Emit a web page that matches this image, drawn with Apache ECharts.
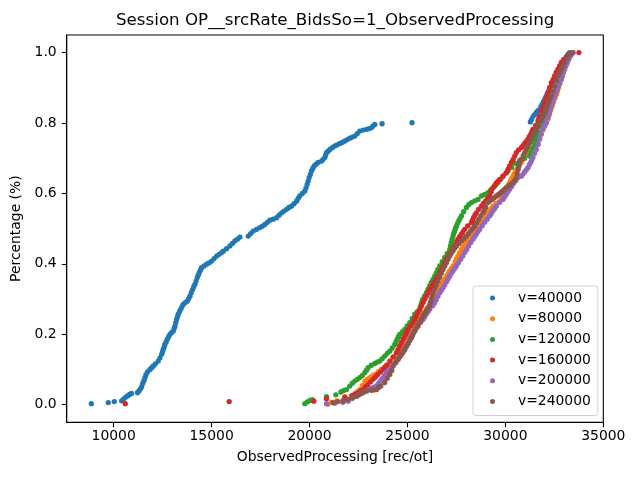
<!DOCTYPE html>
<html>
<head>
<meta charset="utf-8">
<script src="https://cdn.jsdelivr.net/npm/echarts@6/dist/echarts.min.js"></script>
<style>
  html, body { margin: 0; padding: 0; background: #fff; }
  #main { width: 640px; height: 480px; }
</style>
</head>
<body>
<div id="main"></div>
<script>
var titleText = 'Session OP__srcRate_BidsSo=1_ObservedProcessing';
var xName = 'ObservedProcessing [rec/ot]';
var yName = 'Percentage (%)';
var xTicks = [10000, 15000, 20000, 25000, 30000, 35000];
var yTicks = [0, 0.2, 0.4, 0.6, 0.8, 1.0];
var seriesNames = ['v=40000', 'v=80000', 'v=120000', 'v=160000', 'v=200000', 'v=240000'];
var colors = ['#1f77b4', '#ff7f0e', '#2ca02c', '#d62728', '#9467bd', '#8c564b'];

// [ObservedProcessing, percentage]
var v40000 = [[8857,0.003],[9724,0.006],[10031,0.009],[10408,0.011],[10500,0.016],[10602,0.021],[10704,0.025],[10806,0.029],[10908,0.032],[11214,0.034],[11291,0.039],[11367,0.045],[11429,0.051],[11485,0.061],[11546,0.069],[11597,0.077],[11648,0.085],[11724,0.093],[11852,0.100],[11939,0.105],[12020,0.110],[12133,0.116],[12275,0.124],[12362,0.133],[12449,0.143],[12490,0.150],[12531,0.157],[12577,0.164],[12617,0.171],[12678,0.178],[12735,0.186],[12806,0.193],[12873,0.200],[12959,0.205],[13041,0.209],[13087,0.217],[13128,0.223],[13169,0.233],[13214,0.242],[13255,0.249],[13296,0.257],[13357,0.264],[13418,0.271],[13485,0.278],[13551,0.285],[13653,0.290],[13755,0.294],[13826,0.301],[13893,0.308],[13959,0.318],[14030,0.327],[14087,0.335],[14148,0.342],[14209,0.351],[14265,0.361],[14316,0.368],[14367,0.375],[14428,0.382],[14490,0.389],[14617,0.394],[14745,0.399],[14872,0.403],[14999,0.408],[15127,0.415],[15255,0.422],[15382,0.427],[15510,0.432],[15592,0.436],[15766,0.443],[15934,0.451],[16062,0.458],[16189,0.465],[16317,0.470],[16444,0.476],[16867,0.479],[16995,0.486],[17122,0.493],[17295,0.498],[17464,0.503],[17591,0.507],[17719,0.512],[17847,0.518],[17974,0.524],[18143,0.527],[18316,0.531],[18444,0.538],[18571,0.545],[18699,0.550],[18827,0.555],[18954,0.560],[19082,0.564],[19209,0.571],[19337,0.578],[19420,0.586],[19505,0.593],[19632,0.600],[19760,0.607],[19821,0.616],[19878,0.626],[19929,0.635],[19980,0.645],[20041,0.654],[20101,0.664],[20168,0.671],[20235,0.678],[20337,0.683],[20439,0.688],[20612,0.692],[20694,0.697],[20781,0.702],[20822,0.709],[20867,0.716],[20949,0.720],[21035,0.725],[21163,0.730],[21290,0.735],[21418,0.738],[21546,0.742],[21673,0.745],[21801,0.749],[21929,0.753],[22056,0.757],[22184,0.760],[22311,0.763],[22439,0.770],[22566,0.777],[22735,0.780],[22908,0.782],[23036,0.784],[23163,0.787],[23245,0.792],[23331,0.796],[23704,0.798],[25234,0.801],[31275,0.803],[31341,0.810],[31418,0.819],[31495,0.824],[31581,0.830],[31663,0.835],[31750,0.839],[31811,0.846],[31877,0.853],[31939,0.860],[32005,0.867],[32066,0.874],[32132,0.882],[32194,0.889],[32260,0.896],[32347,0.906],[32439,0.916],[32541,0.924],[32633,0.934],[32699,0.943],[32770,0.953],[32832,0.960],[32897,0.967],[32959,0.974],[33025,0.981],[33107,0.988],[33193,0.995],[33280,1.0]];

var v80000 = [[20934,0.001],[21122,0.007],[21393,0.011],[21714,0.013],[21929,0.016],[22143,0.020],[22254,0.026],[22362,0.032],[22465,0.038],[22566,0.043],[22694,0.055],[22821,0.067],[22949,0.072],[23076,0.077],[23204,0.082],[23332,0.086],[23509,0.093],[23673,0.100],[23842,0.107],[24010,0.114],[24148,0.124],[24265,0.134],[24429,0.143],[24607,0.152],[24735,0.164],[24862,0.176],[24990,0.190],[25041,0.197],[25117,0.205],[25204,0.212],[25296,0.220],[25377,0.226],[25459,0.233],[25541,0.241],[25627,0.248],[25714,0.255],[25796,0.261],[25959,0.271],[26046,0.278],[26138,0.285],[26219,0.292],[26306,0.299],[26387,0.308],[26469,0.318],[26557,0.328],[26648,0.337],[26734,0.343],[26827,0.350],[26913,0.358],[27005,0.366],[27082,0.373],[27158,0.380],[27240,0.387],[27326,0.394],[27438,0.406],[27500,0.414],[27566,0.421],[27658,0.431],[27755,0.441],[27837,0.448],[27923,0.455],[28025,0.463],[28127,0.470],[28230,0.477],[28331,0.484],[28423,0.491],[28520,0.498],[28602,0.504],[28689,0.509],[28776,0.515],[28867,0.521],[28948,0.528],[29030,0.536],[29112,0.543],[29199,0.551],[29281,0.557],[29367,0.564],[29530,0.572],[29709,0.578],[29785,0.586],[29862,0.593],[29923,0.600],[29990,0.607],[30061,0.614],[30132,0.621],[30199,0.629],[30270,0.636],[30327,0.643],[30387,0.649],[30454,0.656],[30525,0.663],[30602,0.670],[30678,0.677],[30755,0.684],[30831,0.690],[30908,0.698],[30985,0.705],[31061,0.712],[31138,0.718],[31291,0.725],[31469,0.734],[31566,0.739],[31663,0.744],[31745,0.757],[31827,0.769],[31913,0.780],[32005,0.791],[32086,0.801],[32173,0.811],[32240,0.823],[32311,0.836],[32388,0.848],[32464,0.860],[32541,0.871],[32617,0.882],[32668,0.891],[32719,0.901],[32786,0.913],[32857,0.924],[32902,0.934],[32948,0.944],[32999,0.954],[33050,0.964],[33102,0.972],[33153,0.981],[33280,0.995]];

var v120000 = [[19760,0.003],[19888,0.008],[20015,0.012],[20143,0.014],[20867,0.023],[21342,0.028],[21597,0.036],[21740,0.040],[21888,0.043],[22056,0.053],[22184,0.061],[22311,0.067],[22439,0.072],[22566,0.077],[22694,0.083],[22821,0.091],[22908,0.098],[22990,0.105],[23153,0.112],[23332,0.117],[23459,0.121],[23587,0.124],[23714,0.131],[23842,0.138],[23969,0.146],[24097,0.152],[24224,0.161],[24352,0.171],[24414,0.178],[24479,0.186],[24540,0.193],[24607,0.200],[24735,0.207],[24862,0.214],[24990,0.224],[25117,0.233],[25245,0.245],[25372,0.257],[25500,0.264],[25627,0.271],[25663,0.278],[25704,0.285],[25740,0.292],[25780,0.299],[25872,0.309],[25969,0.318],[26051,0.328],[26138,0.338],[26219,0.347],[26306,0.356],[26393,0.365],[26469,0.374],[26557,0.384],[26648,0.394],[26775,0.406],[26903,0.418],[27031,0.430],[27158,0.441],[27194,0.451],[27235,0.461],[27281,0.470],[27326,0.479],[27367,0.487],[27413,0.494],[27454,0.501],[27500,0.507],[27556,0.515],[27617,0.522],[27684,0.529],[27755,0.536],[27872,0.548],[28010,0.560],[28127,0.568],[28265,0.574],[28434,0.579],[28602,0.583],[28776,0.593],[28944,0.597],[29112,0.602],[29250,0.610],[29367,0.616],[29505,0.624],[29622,0.631],[29760,0.640],[29877,0.649],[30015,0.657],[30132,0.664],[30321,0.674],[30525,0.685],[30729,0.694],[30985,0.700],[31240,0.706],[31315,0.716],[31393,0.728],[31469,0.739],[31546,0.751],[31622,0.762],[31699,0.774],[31852,0.788],[32005,0.801],[32081,0.816],[32158,0.830],[32235,0.843],[32311,0.856],[32388,0.867],[32464,0.879],[32541,0.887],[32617,0.896],[32744,0.910],[32856,0.924],[32902,0.934],[32948,0.944],[32999,0.954],[33050,0.964],[33127,0.972],[33193,0.981],[33280,0.992],[33367,1.0]];

var v160000 = [[10592,0.003],[15898,0.009],[20219,0.010],[20867,0.017],[21801,0.022],[22158,0.026],[22311,0.030],[22479,0.034],[22607,0.039],[22735,0.043],[22857,0.051],[22974,0.057],[23112,0.065],[23244,0.072],[23367,0.079],[23485,0.086],[23622,0.093],[23755,0.100],[23852,0.106],[23943,0.112],[24097,0.124],[24275,0.136],[24438,0.148],[24520,0.157],[24607,0.167],[24694,0.176],[24775,0.186],[24842,0.193],[24913,0.200],[24969,0.207],[25030,0.214],[25168,0.224],[25285,0.233],[25372,0.242],[25449,0.251],[25536,0.261],[25627,0.271],[25714,0.281],[25806,0.291],[25888,0.300],[25969,0.309],[26051,0.318],[26138,0.328],[26240,0.337],[26342,0.346],[26449,0.356],[26561,0.365],[26668,0.377],[26775,0.389],[26883,0.401],[26990,0.413],[27071,0.420],[27158,0.427],[27245,0.434],[27326,0.441],[27392,0.448],[27464,0.455],[27520,0.463],[27582,0.470],[27663,0.477],[27745,0.484],[27832,0.491],[27923,0.498],[28076,0.508],[28265,0.517],[28321,0.524],[28382,0.532],[28449,0.539],[28520,0.545],[28638,0.555],[28776,0.564],[28882,0.572],[28995,0.579],[29097,0.586],[29199,0.593],[29276,0.605],[29367,0.616],[29449,0.622],[29530,0.629],[29617,0.634],[29709,0.640],[29877,0.649],[30051,0.659],[30132,0.668],[30219,0.678],[30306,0.688],[30398,0.697],[30479,0.706],[30561,0.716],[30678,0.724],[30816,0.730],[30898,0.736],[30985,0.742],[31071,0.748],[31153,0.754],[31219,0.761],[31291,0.768],[31352,0.775],[31409,0.782],[31546,0.793],[31663,0.806],[31709,0.813],[31750,0.820],[31837,0.834],[31929,0.846],[32005,0.858],[32081,0.873],[32173,0.886],[32260,0.901],[32347,0.915],[32439,0.924],[32515,0.934],[32592,0.944],[32684,0.953],[32770,0.962],[32857,0.972],[32974,0.980],[33112,0.986],[33229,0.994],[33367,0.998],[33755,1.0]];

var v200000 = [[20867,0.003],[21291,0.004],[21698,0.007],[21969,0.010],[22184,0.018],[22398,0.024],[22515,0.028],[22643,0.032],[22770,0.036],[22908,0.039],[23025,0.043],[23153,0.046],[23280,0.050],[23418,0.053],[23500,0.059],[23587,0.065],[23673,0.071],[23755,0.077],[23837,0.083],[23919,0.089],[24005,0.095],[24097,0.100],[24184,0.106],[24275,0.112],[24357,0.118],[24438,0.124],[24520,0.130],[24607,0.136],[24694,0.142],[24775,0.148],[24842,0.155],[24913,0.163],[24969,0.170],[25030,0.176],[25097,0.184],[25168,0.191],[25225,0.198],[25285,0.205],[25413,0.214],[25540,0.223],[25678,0.234],[25796,0.242],[25877,0.249],[25959,0.257],[26046,0.264],[26138,0.271],[26291,0.281],[26377,0.289],[26469,0.298],[26557,0.308],[26648,0.318],[26729,0.325],[26816,0.332],[26903,0.340],[26990,0.349],[27071,0.357],[27158,0.365],[27240,0.373],[27326,0.380],[27413,0.387],[27500,0.394],[27607,0.403],[27719,0.413],[27821,0.422],[27923,0.432],[28025,0.441],[28127,0.451],[28235,0.461],[28347,0.470],[28429,0.477],[28510,0.484],[28597,0.491],[28689,0.498],[28816,0.508],[28944,0.518],[29071,0.527],[29199,0.536],[29281,0.543],[29367,0.551],[29454,0.557],[29540,0.564],[29709,0.575],[29877,0.583],[29959,0.590],[30040,0.597],[30127,0.605],[30219,0.612],[30321,0.620],[30423,0.629],[30530,0.637],[30643,0.645],[30816,0.649],[30898,0.655],[30985,0.661],[31066,0.667],[31153,0.673],[31219,0.681],[31291,0.688],[31347,0.695],[31409,0.702],[31495,0.714],[31581,0.725],[31673,0.739],[31750,0.754],[31826,0.768],[31918,0.782],[32005,0.792],[32091,0.801],[32183,0.816],[32260,0.830],[32321,0.841],[32388,0.853],[32449,0.865],[32515,0.877],[32577,0.886],[32643,0.896],[32704,0.905],[32770,0.915],[32831,0.924],[32898,0.934],[32959,0.943],[33025,0.953],[33087,0.961],[33153,0.970],[33214,0.978],[33280,0.986],[33362,0.993],[33449,1.0]];

var v240000 = [[21204,0.006],[21444,0.009],[21714,0.010],[21969,0.015],[22184,0.019],[22398,0.024],[22520,0.028],[22643,0.032],[22775,0.036],[22908,0.039],[23153,0.041],[23285,0.042],[23418,0.043],[23525,0.049],[23638,0.053],[23842,0.063],[23969,0.075],[24097,0.086],[24199,0.097],[24265,0.110],[24403,0.120],[24520,0.129],[24602,0.136],[24683,0.143],[24770,0.150],[24862,0.157],[24949,0.166],[25041,0.174],[25122,0.182],[25204,0.190],[25260,0.197],[25321,0.204],[25387,0.211],[25459,0.219],[25541,0.227],[25627,0.235],[25714,0.243],[25796,0.252],[25877,0.259],[25959,0.266],[26046,0.273],[26138,0.280],[26173,0.290],[26214,0.299],[26260,0.309],[26306,0.318],[26387,0.329],[26469,0.340],[26557,0.351],[26648,0.362],[26729,0.373],[26816,0.384],[26903,0.394],[26990,0.403],[27071,0.413],[27158,0.422],[27240,0.430],[27326,0.437],[27413,0.444],[27500,0.451],[27628,0.458],[27755,0.465],[27883,0.472],[28010,0.479],[28117,0.486],[28229,0.494],[28332,0.501],[28434,0.507],[28536,0.517],[28638,0.526],[28744,0.536],[28857,0.545],[28923,0.553],[28995,0.561],[29112,0.574],[29219,0.579],[29325,0.583],[29433,0.588],[29540,0.593],[29648,0.597],[29760,0.602],[29862,0.607],[29964,0.612],[30066,0.617],[30168,0.622],[30275,0.626],[30387,0.631],[30469,0.637],[30551,0.643],[30602,0.656],[30653,0.668],[30689,0.678],[30729,0.688],[30816,0.697],[30908,0.707],[30990,0.716],[31071,0.725],[31127,0.732],[31188,0.739],[31255,0.747],[31326,0.754],[31382,0.761],[31444,0.768],[31510,0.775],[31581,0.782],[31637,0.789],[31698,0.796],[31765,0.803],[31836,0.811],[31892,0.818],[31954,0.825],[32020,0.832],[32091,0.839],[32148,0.849],[32209,0.859],[32275,0.868],[32347,0.877],[32439,0.891],[32515,0.905],[32602,0.920],[32684,0.934],[32770,0.943],[32857,0.953],[32949,0.962],[33025,0.972],[33153,0.984],[33280,0.995],[33449,1.0]];

var seriesData = [v40000, v80000, v120000, v160000, v200000, v240000];

var font = 'DejaVu Sans';
var chart = echarts.init(document.getElementById('main'), null, { renderer: 'canvas' });

var series = [];
for (var i = 0; i < seriesNames.length; i++) {
  series.push({
    name: seriesNames[i],
    type: 'scatter',
    data: seriesData[i],
    symbol: 'circle',
    symbolSize: 5.3,
    itemStyle: { color: colors[i], opacity: 1 },
    emphasis: { disabled: true },
    silent: true
  });
}

var option = {
  animation: false,
  backgroundColor: '#fff',
  title: {
    text: titleText,
    left: 116,
    top: 12,
    padding: 0,
    textStyle: { fontFamily: font, fontSize: 16.7, fontWeight: 'normal', color: '#000' }
  },
  legend: {
    data: seriesNames,
    orient: 'vertical',
    left: 473,
    top: 286,
    padding: [5, 7, 7, 17],
    itemWidth: 5,
    itemHeight: 5,
    itemGap: 6.7,
    icon: 'circle',
    backgroundColor: 'rgba(255,255,255,0.8)',
    borderColor: '#d0d0d0',
    borderWidth: 1,
    borderRadius: 3,
    textStyle: { fontFamily: font, fontSize: 13.9, color: '#000', lineHeight: 14, padding: [0, 0, 0, 18] }
  },
  grid: {
    left: 66.7,
    right: 36.7,
    top: 35,
    bottom: 57.7,
    show: true,
    borderColor: '#000',
    borderWidth: 1.1,
    containLabel: false,
    outerBoundsMode: 'none'
  },
  xAxis: {
    type: 'value',
    min: 7600,
    max: 35000,
    name: xName,
    nameLocation: 'middle',
    nameGap: 28.5,
    nameTextStyle: { fontFamily: font, fontSize: 13.9, color: '#000' },
    axisLine: { show: true, onZero: false, lineStyle: { color: '#000', width: 1.1 } },
    axisTick: { show: true, length: 4.9, lineStyle: { color: '#000', width: 1.1 }, customValues: xTicks },
    axisLabel: {
      show: true, margin: 7, color: '#000', fontFamily: font, fontSize: 13.9,
      customValues: xTicks,
      formatter: function (v) { return String(v); }
    },
    splitLine: { show: false }
  },
  yAxis: {
    type: 'value',
    min: -0.05,
    max: 1.05,
    name: yName,
    nameLocation: 'middle',
    nameGap: 31,
    nameRotate: 90,
    nameTextStyle: { fontFamily: font, fontSize: 13.9, color: '#000' },
    axisLine: { show: true, onZero: false, lineStyle: { color: '#000', width: 1.1 } },
    axisTick: { show: true, length: 4.9, lineStyle: { color: '#000', width: 1.1 }, customValues: yTicks },
    axisLabel: {
      show: true, margin: 10, color: '#000', fontFamily: font, fontSize: 13.9,
      customValues: yTicks,
      formatter: function (v) { return v.toFixed(1); }
    },
    splitLine: { show: false }
  },
  series: series
};

chart.setOption(option);
</script>
</body>
</html>
